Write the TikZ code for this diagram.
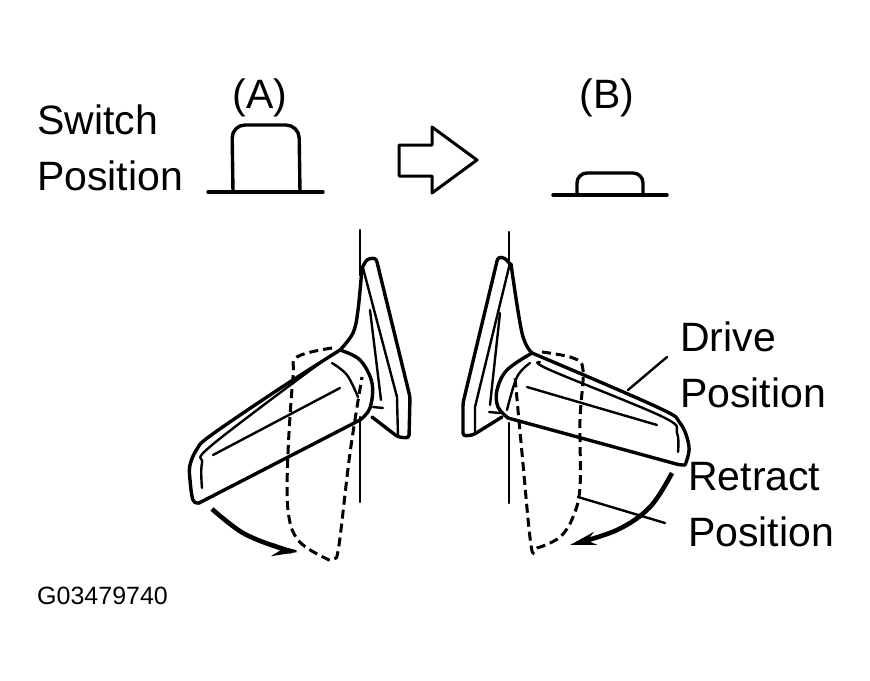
\documentclass[tikz,border=0pt]{standalone}
\usepackage{fontspec}
\setmainfont{Liberation Sans}
\usepackage{xcolor}
\definecolor{mrInk}{RGB}{0,0,0}
\usetikzlibrary{arrows.meta}

\begin{document}
\begin{tikzpicture}[x=1pt,y=-1pt,
  lbl/.style={anchor=base west,inner sep=0pt,text=mrInk,font=\fontsize{41}{41}\selectfont},
  head/.style={lbl,anchor=base},
  figcode/.style={lbl,font=\fontsize{25}{25}\selectfont},
  ln/.style={draw=mrInk,line width=3.4pt,line join=round,line cap=round},
  fine/.style={draw=mrInk,line width=2.4pt,line join=round,line cap=round},
  dashln/.style={draw=mrInk,line width=3pt,dash pattern=on 9pt off 5pt},
  swing/.style={draw=mrInk,line width=4.6pt,-{Stealth[length=26pt,width=13pt]}}]
  \useasboundingbox (0,0) rectangle (870,680);

  % labels
  \node[lbl] (switch) at (37,134) {Switch};
  \node[lbl] (swpos) at ([yshift=-56pt]switch.base west) {Position};
  \node[head] (capa) at (260,108) {(A)};
  \node[head] (capb) at (607,108) {(B)};
  \node[lbl] (drive) at (680,351) {Drive};
  \node[lbl] (drpos) at ([yshift=-56pt]drive.base west) {Position};
  \node[lbl] (retract) at (688,490) {Retract};
  \node[lbl] (repos) at ([yshift=-56pt]retract.base west) {Position};
  \node[figcode] (figno) at (37,604) {G03479740};

  % switch buttons and block arrow
  \draw[ln] (208,192) -- (323,192);
  \draw[ln,rounded corners=13pt] (233,192) -- (232,125) -- (299,125) -- (300,192);
  \draw[ln,line width=3pt] (399,145) -- (432,145) -- (432,127) -- (477,160) -- (432,193) -- (432,176) -- (399,176) -- cycle;
  \draw[ln] (553,195) -- (667,195);
  \draw[ln,rounded corners=10pt] (577,195) -- (577,173) -- (643,173) -- (643,195);

  % left mirror
  \draw[fine] (360,230) -- (360,275);
  \draw[fine] (360,417) -- (360,502);
  \draw[ln,rounded corners=3pt] (362,268) -- (367,259) -- (376,258) -- (410,397) -- (409,438) -- (398,437) -- (372,417);
  \draw[fine] (363,268) -- (397,397) -- (398,437);
  \draw[fine] (370,310) -- (381,400);
  \draw[fine] (373,407) -- (383,408);
  \draw[ln] plot[smooth,tension=.6] coordinates {(362,268) (358,310) (353,333) (340,350)};
  \draw[ln] plot[smooth,tension=.6] coordinates {(340,350) (360,360) (372,383) (370,408) (360,420)};
  \draw[ln] (360,420) -- (199,503);
  \draw[ln] plot[smooth,tension=.6] coordinates {(199,503) (193,500) (190,480) (190,465) (197,449) (210,436) (273,393) (340,350)};
  \draw[fine] plot[smooth,tension=.6] coordinates {(202,488) (202,463) (212,445) (320,363)};
  \draw[fine] plot[smooth,tension=.6] coordinates {(332,363) (347,375) (358,397)};
  \draw[fine] (213,455) -- (340,388);
  \draw[dashln] plot[smooth,tension=.6] coordinates {(332,348) (297,357) (293,377) (288,453) (288,510) (298,540) (325,558) (334,559) (339,545) (350,453) (362,377)};
  \draw[swing] plot[smooth,tension=.6] coordinates {(212,509) (243,533) (280,548) (298,552)};

  % right mirror
  \draw[fine] (509,232) -- (509,260);
  \draw[fine] (509,423) -- (509,503);
  \draw[ln,rounded corners=3pt] (510,264) -- (505,258) -- (498,257) -- (463,403) -- (463,436) -- (473,435) -- (502,417);
  \draw[fine] (510,263) -- (475,407) -- (475,433);
  \draw[fine] (500,313) -- (490,405);
  \draw[fine] (489,412) -- (500,413);
  \draw[ln] plot[smooth,tension=.6] coordinates {(511,264) (522,333) (532,353)};
  \draw[ln] plot[smooth,tension=.6] coordinates {(532,353) (657,407) (680,423) (689,447) (685,465)};
  \draw[ln,rounded corners=3pt] (685,465) -- (680,465) -- (508,418);
  \draw[ln] plot[smooth,tension=.6] coordinates {(508,418) (498,407) (497,390) (507,370) (532,353)};
  \draw[fine] plot[smooth,tension=.6] coordinates {(540,362) (550,370) (663,417) (677,433) (678,452)};
  \draw[fine] plot[smooth,tension=.6] coordinates {(530,363) (517,377) (507,410)};
  \draw[fine] (527,387) -- (657,425);
  \draw[dashln] plot[smooth,tension=.6] coordinates {(542,352) (573,358) (583,370) (580,420) (580,487) (573,517) (560,537) (537,548) (531,545) (522,453) (515,377)};
  \draw[swing] plot[smooth,tension=.6] coordinates {(672,473) (650,507) (617,530) (570,545)};

  % leaders
  \coordinate (drtip) at (628,390);
  \coordinate (retip) at (578,497);
  \draw[fine] (drtip) -- (667,357);
  \draw[fine] (retip) -- (665,523);
\end{tikzpicture}
\end{document}
